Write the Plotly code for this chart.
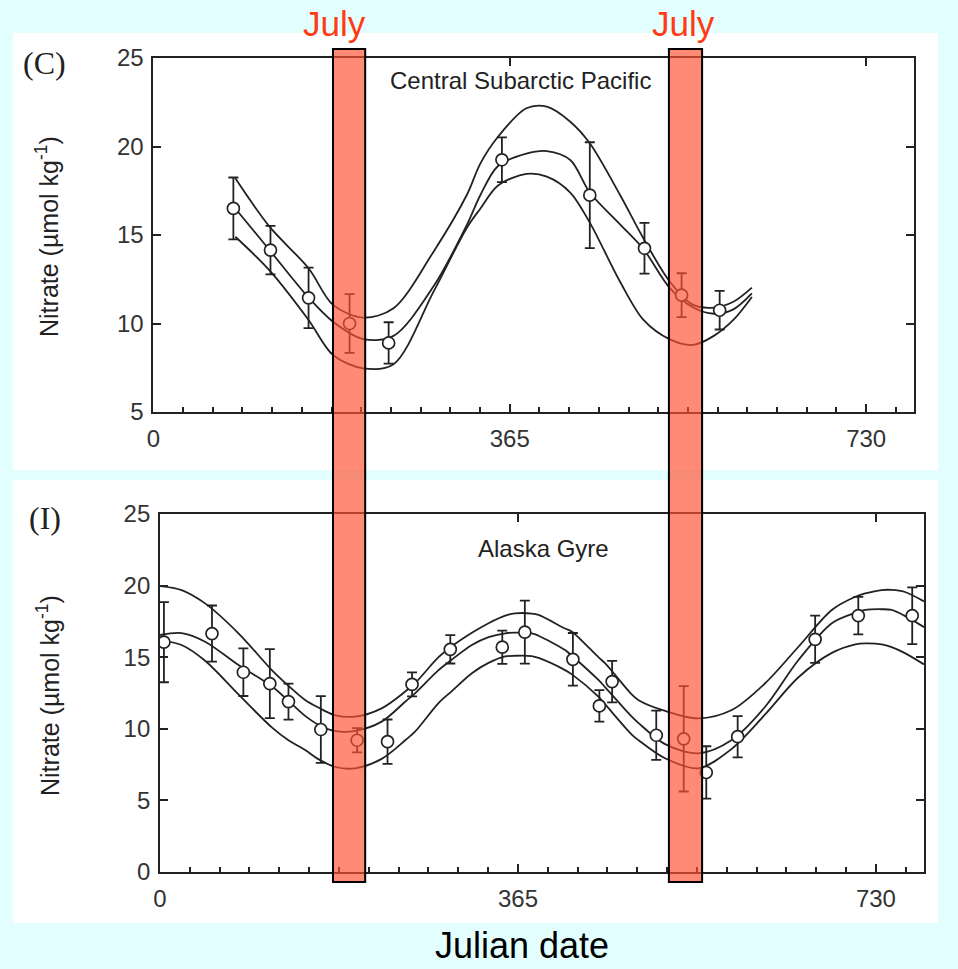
import plotly.graph_objects as go

# ---------------- data ----------------
# (C) Central Subarctic Pacific: observed nitrate (umol/kg) by Julian date, +/- 1 SD
central_day = [82, 120, 159, 201, 241, 357, 447, 503, 541, 580]
central_no3 = [16.5, 14.15, 11.45, 10.0, 8.9, 19.25, 17.25, 14.25, 11.6, 10.75]
central_sd = [1.75, 1.37, 1.71, 1.66, 1.17, 1.26, 2.99, 1.43, 1.24, 1.09]

# fitted seasonal cycle (mean, upper and lower envelope)
central_fit_day = [84, 119, 159, 184, 215, 246, 287, 321, 335, 353, 382, 403, 427, 447, 478, 502, 529, 553, 574, 594, 613]
central_fit_mid = [16.5, 14.15, 11.46, 10.1, 9.12, 9.3, 12.1, 15.56, 17.26, 18.9, 19.6, 19.74, 19.24, 17.4, 15.6, 14.2, 12.0, 10.9, 10.55, 10.8, 11.7]
central_fit_hi = [18.2, 15.47, 13.12, 11.05, 10.33, 10.86, 14.06, 17.26, 19.05, 20.55, 22.16, 22.25, 21.4, 20.18, 17.26, 14.8, 12.36, 11.05, 10.9, 11.23, 12.03]
central_fit_lo = [14.9, 13.0, 10.2, 8.22, 7.47, 7.7, 11.8, 15.4, 16.5, 17.8, 18.45, 18.3, 17.4, 15.7, 12.36, 10.2, 9.1, 8.79, 9.3, 10.2, 11.5]

# (I) Alaska Gyre
alaska_day = [4, 53, 85, 112, 131, 164, 201, 232, 257, 296, 349, 372, 421, 448, 461, 506, 534, 557, 589, 668, 712, 767]
alaska_no3 = [16.05, 16.65, 13.95, 13.15, 11.9, 9.95, 9.2, 9.1, 13.1, 15.55, 15.7, 16.75, 14.85, 11.6, 13.3, 9.55, 9.3, 6.95, 9.45, 16.25, 17.9, 17.9]
alaska_sd = [2.8, 1.96, 1.66, 2.41, 1.26, 2.33, 0.85, 1.55, 0.84, 0.99, 1.16, 2.2, 1.84, 1.1, 1.45, 1.72, 3.68, 1.83, 1.44, 1.65, 1.31, 1.98]

alaska_fit_day = [0, 22, 46, 80, 114, 131, 148, 161, 178, 199, 226, 250, 260, 284, 297, 318, 335, 352, 362, 379, 386, 413, 420, 447, 454, 481, 488, 515, 549, 583, 617, 651, 685, 709, 719, 736, 746, 759, 779]
alaska_fit_mid = [16.55, 16.68, 16.08, 14.45, 12.97, 11.95, 10.9, 10.3, 9.85, 9.85, 10.5, 11.89, 12.48, 14.1, 14.8, 15.85, 16.4, 16.67, 16.72, 16.67, 16.5, 15.5, 15.1, 13.41, 12.9, 10.85, 10.4, 8.93, 8.29, 9.22, 11.54, 14.8, 17.37, 18.1, 18.3, 18.35, 18.3, 17.9, 17.1]
alaska_fit_hi = [19.97, 19.69, 18.76, 16.67, 14.1, 13.0, 12.01, 11.5, 10.96, 10.85, 11.43, 12.6, 13.18, 15.0, 15.73, 16.7, 17.37, 17.9, 18.06, 18.05, 17.95, 17.0, 16.78, 15.0, 14.57, 12.4, 12.0, 11.25, 10.73, 11.31, 13.18, 15.73, 18.3, 19.22, 19.45, 19.69, 19.7, 19.57, 18.9]
alaska_fit_lo = [16.2, 15.85, 14.75, 12.4, 10.1, 9.2, 8.52, 7.9, 7.35, 7.24, 7.9, 9.2, 9.8, 11.8, 12.6, 13.88, 14.6, 15.05, 15.1, 15.08, 14.95, 14.1, 13.8, 12.24, 11.7, 9.6, 9.2, 7.94, 7.24, 8.6, 11.0, 13.6, 15.3, 15.9, 15.97, 15.9, 15.7, 15.3, 14.5]

# July windows, in Julian-date units of the upper axis
july_bands = [(184, 217), (528, 562)]
july_label_day = [186, 542.5]

month_step = 365 / 12
xmax = 779

# ---------------- styling ----------------
W, H = 958, 969
INK = "#222222"
SANS = "Liberation Sans, Arial, sans-serif"
SERIF = "Liberation Serif, Times New Roman, serif"
BG = "#E2FEFE"
JULY_RED = "#FF3A14"


def px_x(p):
    return p / W


def px_y(p):
    return 1 - p / H


fig = go.Figure()


def add_panel(xa, ya, fit_day, fits, day, no3, sd):
    for f in fits:
        fig.add_trace(go.Scatter(
            x=fit_day, y=f, mode="lines", xaxis=xa, yaxis=ya,
            line=dict(color=INK, width=1.8, shape="spline", smoothing=0.9),
            hoverinfo="skip", showlegend=False))
    fig.add_trace(go.Scatter(
        x=day, y=no3, mode="markers", xaxis=xa, yaxis=ya,
        marker=dict(symbol="circle", size=12, color="white",
                    line=dict(color=INK, width=1.7)),
        error_y=dict(type="data", array=sd, visible=True, color=INK,
                     thickness=1.8, width=5),
        showlegend=False))


add_panel("x", "y", central_fit_day, [central_fit_hi, central_fit_mid, central_fit_lo],
          central_day, central_no3, central_sd)
add_panel("x2", "y2", alaska_fit_day, [alaska_fit_hi, alaska_fit_mid, alaska_fit_lo],
          alaska_day, alaska_no3, alaska_sd)

# carriers for the monthly minor-tick axes
fig.add_trace(go.Scatter(x=[None], y=[None], xaxis="x3", yaxis="y", showlegend=False, hoverinfo="skip"))
fig.add_trace(go.Scatter(x=[None], y=[None], xaxis="x4", yaxis="y2", showlegend=False, hoverinfo="skip"))

tickfont = dict(family=SANS, size=24, color="#333333")

xcommon = dict(range=[0, xmax], tick0=0, dtick=365, ticks="inside", ticklen=8, tickwidth=1.6,
               tickcolor=INK, showline=True, linecolor=INK, linewidth=1.8, mirror="ticks",
               showgrid=False, zeroline=False, tickfont=tickfont, ticklabelstandoff=4)
ycommon = dict(dtick=5, ticks="inside", ticklen=8, tickwidth=1.6, tickcolor=INK,
               showline=True, linecolor=INK, linewidth=1.8, mirror="ticks",
               showgrid=False, zeroline=False, tickfont=tickfont, ticklabelstandoff=3)
minor = dict(range=[0, xmax], tick0=0, dtick=month_step, ticks="inside", ticklen=5,
             tickwidth=1.5, tickcolor=INK, showticklabels=False, showline=False,
             showgrid=False, zeroline=False, side="bottom")

fig.update_layout(
    width=W, height=H,
    margin=dict(l=0, r=0, t=0, b=0, autoexpand=False),
    paper_bgcolor=BG, plot_bgcolor="white",
    xaxis=dict(domain=[px_x(153.3), px_x(914)], anchor="y", **xcommon),
    yaxis=dict(domain=[px_y(412), px_y(58)], anchor="x", range=[5, 25], **ycommon),
    xaxis2=dict(domain=[px_x(160), px_x(924)], anchor="y2", **xcommon),
    yaxis2=dict(domain=[px_y(872), px_y(514)], anchor="x2", range=[0, 25], **ycommon),
    xaxis3=dict(overlaying="x", anchor="y", **minor),
    xaxis4=dict(overlaying="x2", anchor="y2", **minor),
)

# white panels behind each chart
shapes = [
    dict(type="rect", xref="paper", yref="paper", x0=px_x(13), x1=px_x(938),
         y0=px_y(470), y1=px_y(33), fillcolor="white", line=dict(width=0), layer="below"),
    dict(type="rect", xref="paper", yref="paper", x0=px_x(13), x1=px_x(938),
         y0=px_y(923), y1=px_y(480), fillcolor="white", line=dict(width=0), layer="below"),
]
# July highlight bands spanning both panels
for x0, x1 in july_bands:
    shapes.append(dict(type="rect", xref="x", yref="paper", x0=x0, x1=x1,
                       y0=px_y(882), y1=px_y(49),
                       fillcolor="rgba(255,81,49,0.67)",
                       line=dict(color="black", width=2), layer="above"))
fig.update_layout(shapes=shapes)

ann = []
for d in july_label_day:
    ann.append(dict(text="July", xref="x", yref="paper", x=d, y=px_y(23),
                    xanchor="center", yanchor="middle", showarrow=False,
                    font=dict(family=SANS, size=35, color=JULY_RED)))
ann += [
    dict(text="(C)", xref="paper", yref="paper", x=px_x(44.5), y=px_y(63),
         xanchor="center", yanchor="middle", showarrow=False,
         font=dict(family=SERIF, size=32, color=INK)),
    dict(text="(I)", xref="paper", yref="paper", x=px_x(45), y=px_y(518),
         xanchor="center", yanchor="middle", showarrow=False,
         font=dict(family=SERIF, size=32, color=INK)),
    dict(text="Central Subarctic Pacific", xref="paper", yref="paper", x=px_x(520), y=px_y(81),
         xanchor="center", yanchor="middle", showarrow=False,
         font=dict(family=SANS, size=24, color=INK)),
    dict(text="Alaska Gyre", xref="paper", yref="paper", x=px_x(543), y=px_y(548),
         xanchor="center", yanchor="middle", showarrow=False,
         font=dict(family=SANS, size=24, color=INK)),
    dict(text="Nitrate (\u00b5mol kg<sup>-1</sup>)", xref="paper", yref="paper",
         x=px_x(47), y=px_y(237), textangle=-90, xanchor="center", yanchor="middle",
         showarrow=False, font=dict(family=SANS, size=25, color=INK)),
    dict(text="Nitrate (\u00b5mol kg<sup>-1</sup>)", xref="paper", yref="paper",
         x=px_x(48), y=px_y(696), textangle=-90, xanchor="center", yanchor="middle",
         showarrow=False, font=dict(family=SANS, size=25, color=INK)),
    dict(text="Julian date", xref="paper", yref="paper", x=px_x(522), y=px_y(945),
         xanchor="center", yanchor="middle", showarrow=False,
         font=dict(family=SANS, size=36, color="black")),
]
fig.update_layout(annotations=ann)

fig.write_html("out.html")
